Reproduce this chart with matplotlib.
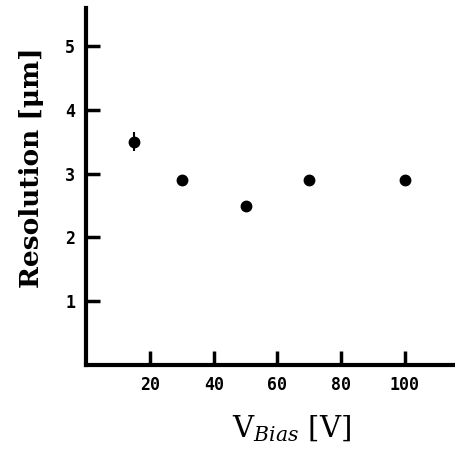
import matplotlib.pyplot as plt

plt.rcParams['mathtext.fontset'] = 'dejavuserif'

# Data
v_bias = [15, 30, 50, 70, 100]
resolution = [3.5, 2.9, 2.5, 2.9, 2.9]
res_err = [0.15, 0.05, 0.05, 0.04, 0.04]

x_ticks = [20, 40, 60, 80, 100]
y_ticks = [1, 2, 3, 4, 5]

fig = plt.figure(figsize=(4.56, 4.51), dpi=100)
ax = fig.add_axes([0.189, 0.191, 0.811, 0.791])

ax.errorbar(v_bias, resolution, yerr=res_err, fmt='o', color='black',
            markersize=7.5, elinewidth=1.5, capsize=0)

ax.set_xlim(0, 116)
ax.set_ylim(0, 5.6)
ax.set_xticks(x_ticks)
ax.set_yticks(y_ticks)

for side in ['top', 'right']:
    ax.spines[side].set_visible(False)
for side in ['left', 'bottom']:
    ax.spines[side].set_linewidth(3)

ax.tick_params(direction='in', length=10, width=2.5, pad=8)
for lab in ax.get_xticklabels() + ax.get_yticklabels():
    lab.set_fontsize(12)
    lab.set_fontweight('bold')
    lab.set_family('DejaVu Sans Mono')

fig.text(0.068, 0.628, 'Resolution [μm]', rotation=90, ha='center', va='center',
         fontsize=19, fontweight='bold', family='DejaVu Serif')
fig.text(0.64, 0.05, r'V$_{\mathit{Bias}}$ [V]', ha='center', va='center',
         fontsize=21, family='DejaVu Serif')

fig.savefig('out.png', dpi=100)
